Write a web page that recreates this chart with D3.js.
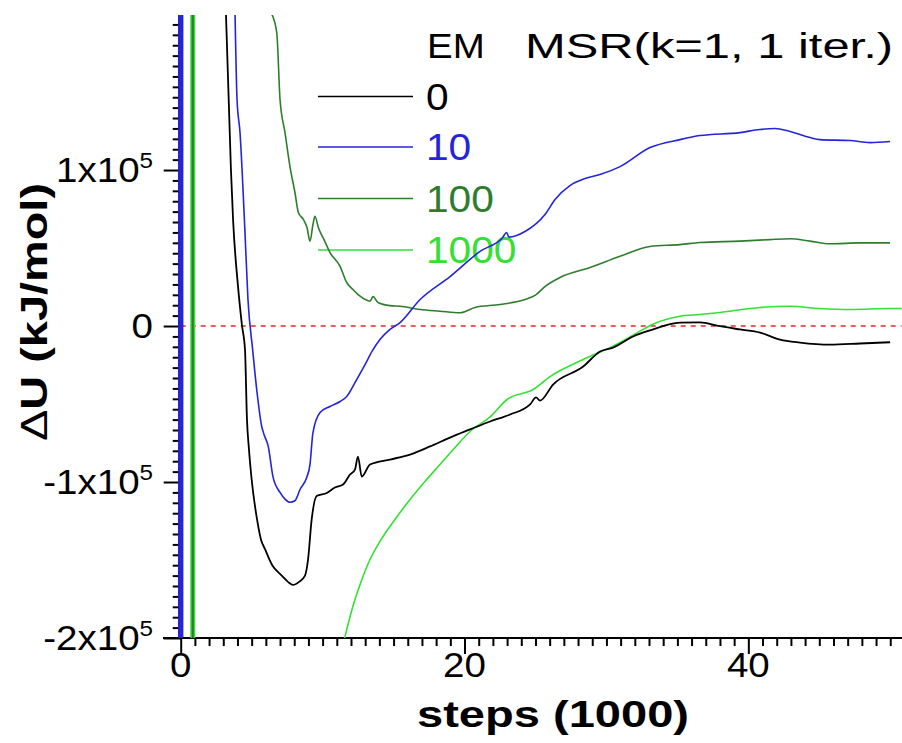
<!DOCTYPE html>
<html><head><meta charset="utf-8">
<script src="https://cdn.jsdelivr.net/npm/d3@7"></script>
<style>
body{margin:0;background:#fff}
svg{display:block}
text{font-family:"Liberation Sans",Arial,Helvetica,sans-serif}
</style>
</head><body>
<svg id="chart" width="902" height="743"></svg>
<script>
// ---- data (steps in thousands, ΔU in kJ/mol) ----
const seriesNames = ["0", "10", "100", "1000"];
const seriesColors = ["#000000", "#2424dc", "#2e7d2e", "#33e033"];

const em0 = [[0,-6e5],[0,6e5],[3.19,200000],[3.54,100300],[3.69,68300],[4.04,25300],[4.32,300],[4.53,-15100],[4.67,-59900],[4.81,-79000],[5.0,-98400],[5.38,-124000],[5.66,-137000],[5.94,-143000],[6.43,-153000],[7.12,-160000],[7.56,-164000],[7.91,-166000],[8.34,-164000],[8.76,-160000],[8.97,-150000],[9.23,-124000],[9.58,-109000],[10.29,-107000],[10.87,-103500],[11.44,-101600],[11.93,-95200],[12.28,-92000],[12.49,-83700],[12.76,-96500],[13.34,-88800],[14.75,-85600],[16.16,-82400],[17.57,-77200],[18.98,-71500],[20.39,-66300],[21.8,-61200],[23.21,-56700],[24.62,-50300],[25.04,-45800],[25.32,-47800],[26.24,-37500],[28.36,-26000],[29.55,-16300],[30.47,-13800],[31.88,-6700],[33.07,-2800],[35.18,2200],[36.59,2400],[38.0,-100],[39.41,-2200],[40.82,-4200],[42.23,-8700],[43.64,-10600],[45.76,-11900],[47.87,-11200],[49.99,-10400]];

const em10 = [[0,-6e5],[0,6e5],[3.83,200000],[3.97,145200],[4.18,124000],[4.53,59900],[4.74,17000],[5.07,-15100],[5.38,-42600],[5.71,-64400],[5.87,-69500],[6.17,-77200],[6.5,-96500],[7.0,-106700],[7.35,-111000],[7.7,-113000],[8.05,-112000],[8.41,-104800],[8.88,-97100],[9.11,-88800],[9.32,-68300],[9.82,-55400],[10.52,-51600],[11.23,-48400],[11.7,-45200],[12.4,-34300],[12.99,-24700],[13.48,-16300],[14.04,-8700],[14.75,-2200],[15.46,2200],[16.87,17000],[18.98,31700],[21.09,47800],[22.69,56800],[22.97,60000],[23.12,57000],[24.26,60600],[25.67,71500],[26.38,81100],[27.43,90000],[28.49,94500],[29.55,97100],[30.96,102200],[33.07,114400],[35.18,119500],[36.59,122100],[39.41,124000],[40.82,126000],[41.88,126600],[42.94,124700],[44.35,120800],[45.05,119500],[47.17,118900],[48.58,117600],[49.99,118300]];

const em100 = [[0.85,-6e5],[0.85,6e5],[6.41,200000],[6.77,188000],[7.0,145200],[7.35,124000],[7.7,102200],[8.05,85600],[8.29,72800],[8.64,68300],[8.9,63100],[9.11,54400],[9.32,65100],[9.46,70400],[9.7,63100],[10.1,55400],[10.52,47100],[11.23,38300],[11.7,27900],[12.14,23400],[12.64,19100],[13.34,15900],[13.55,18900],[13.9,15100],[14.75,13100],[15.46,12700],[16.87,10600],[18.27,9500],[19.68,8500],[20.74,11900],[22.5,13800],[24.26,17000],[24.97,19600],[25.67,25300],[26.73,31100],[28.85,37500],[30.96,44700],[33.07,51000],[35.18,52200],[36.59,53500],[39.41,54400],[41.52,55400],[42.94,55900],[44.35,54400],[45.76,52700],[47.87,53300],[49.99,53300]];

const em1000 = [[0.85,6e5],[0.85,-6e5],[11.58,-199000],[12.07,-181700],[12.64,-165700],[13.34,-149700],[14.04,-138100],[15.1,-124000],[16.16,-111200],[17.21,-99700],[18.27,-88800],[19.33,-77900],[20.39,-67600],[21.8,-58300],[23.0,-47100],[24.83,-40700],[26.03,-32400],[28.36,-21500],[30.47,-12900],[32.37,-3300],[33.07,300],[35.18,6300],[36.59,7400],[38.0,8700],[40.82,11900],[42.94,12700],[45.05,11200],[47.17,10600],[49.99,11200],[50.8,11200]];

const seriesData = [em0, em10, em100, em1000];
const drawOrder = [3, 2, 0, 1];

const xMajorTicks = [0, 20, 40];
const xTickLabels = ["0", "20", "40"];
const yMajorTicks = [-200000, -100000, 0, 100000];
const yTickMantissa = ["-2x10", "-1x10", "0", "1x10"];
const yTickExponent = ["5", "5", "", "5"];

const legendTitle = "EM";
const legendSubtitle = "MSR(k=1, 1 iter.)";
const xTitle = "steps (1000)";
const yTitleSymbol = "\u0394";
const yTitleRest = "U (kJ/mol)";

// ---- layout ----
const svg = d3.select("#chart");
const x = d3.scaleLinear().domain([0, 50.8]).range([180.7, 901.6]);
const y = d3.scaleLinear().domain([-200000, 199000]).range([638, 15.6]);

svg.append("defs").append("clipPath").attr("id", "clip")
  .append("rect").attr("x", 175).attr("y", 15).attr("width", 727).attr("height", 623);

const FS = 35;
const SX = 1.1;

function sText(parent, px, py, anchor, size, weight, fill) {
  return parent.append("text")
    .attr("transform", `translate(${px},${py}) scale(${SX},1)`)
    .attr("text-anchor", anchor)
    .attr("font-size", size)
    .attr("font-weight", weight)
    .attr("fill", fill);
}

// axes (drawn first, curves go over the axis line)
const xMinor = d3.range(0, 51).filter(v => v % 20 !== 0);
const xAxisG = svg.append("g").attr("transform", `translate(0,${y(-200000)})`);
xAxisG.call(d3.axisBottom(x).tickValues(xMinor).tickSize(8).tickFormat(""));
xAxisG.call(g => g.append("g").call(d3.axisBottom(x).tickValues(xMajorTicks).tickSize(16).tickFormat("")));
xAxisG.selectAll("path.domain").attr("stroke-width", 2.2).attr("d", `M163,0H902`);
xAxisG.selectAll(".tick line").attr("stroke", "#000").attr("stroke-width", 2);

const yMinor = d3.range(0, 60).filter(k => k % 15 !== 0).map(k => -200000 + k * 100000 / 15);
const yAxisG = svg.append("g").attr("transform", `translate(${x(0)},0)`);
yAxisG.call(d3.axisLeft(y).tickValues(yMinor).tickSize(8).tickFormat(""));
yAxisG.call(g => g.append("g").call(d3.axisLeft(y).tickValues(yMajorTicks).tickSize(17).tickFormat("")));
yAxisG.selectAll("path.domain").attr("stroke-width", 2.2).attr("d", `M0,${y(199000)}V${y(-200000)}`);
yAxisG.selectAll(".tick line").attr("stroke", "#000").attr("stroke-width", 2);

// legend (drawn under curves)
const legend = svg.append("g");
sText(legend, 427, 58, "start", FS, "normal", "#000").text(legendTitle);
legend.append("text").attr("x", 525).attr("y", 58).attr("font-size", FS)
  .attr("textLength", 368).attr("lengthAdjust", "spacingAndGlyphs").text(legendSubtitle);
const legendRowY = [96.5, 147, 198.5, 250];
seriesNames.forEach((n, i) => {
  legend.append("line").attr("x1", 318).attr("x2", 413)
    .attr("y1", legendRowY[i]).attr("y2", legendRowY[i])
    .attr("stroke", seriesColors[i]).attr("stroke-width", 1.6);
  sText(legend, 426, legendRowY[i] + 13, "start", 37, "normal", seriesColors[i]).text(n);
});

// zero reference line
svg.append("line")
  .attr("x1", x(0)).attr("x2", x(50.8)).attr("y1", y(0)).attr("y2", y(0))
  .attr("stroke", "#e02a2a").attr("stroke-width", 1.3).attr("stroke-dasharray", "5,5");

// curves
const jumpLine = d3.line().x(d => x(d[0])).y(d => y(d[1]));
const line = d3.line().x(d => x(d[0])).y(d => y(d[1])).curve(d3.curveMonotoneX);
const plot = svg.append("g").attr("clip-path", "url(#clip)");
drawOrder.forEach(i => {
  const d = seriesData[i];
  // initial jump drawn thick
  plot.append("path").datum(d.slice(0, 2)).attr("d", jumpLine)
    .attr("fill", "none").attr("stroke", seriesColors[i])
    .attr("stroke-width", i === 3 ? 5 : (i === 2 ? 2.2 : 5));
  plot.append("path").datum(d.slice(2)).attr("d", line)
    .attr("fill", "none").attr("stroke", seriesColors[i])
    .attr("stroke-width", i === 0 ? 1.8 : 1.6).attr("stroke-linejoin", "round");
  // connect the jump top/bottom to the rest (outside the plot area)
  plot.append("path").datum(d.slice(1, 3)).attr("d", jumpLine)
    .attr("fill", "none").attr("stroke", seriesColors[i]).attr("stroke-width", 1.6);
});

// tick labels
xMajorTicks.forEach((v, i) => {
  sText(svg, x(v), 677, "middle", FS, "normal", "#000").text(xTickLabels[i]);
});
yMajorTicks.forEach((v, i) => {
  const t = sText(svg, 153, y(v) + 12, "end", FS, "normal", "#000");
  t.append("tspan").text(yTickMantissa[i]);
  if (yTickExponent[i]) t.append("tspan").attr("font-size", 22).attr("dy", -14).text(yTickExponent[i]);
});

// axis titles
svg.append("text").attr("x", 553).attr("y", 727).attr("text-anchor", "middle")
  .attr("font-size", 36).attr("font-weight", "bold")
  .attr("textLength", 272).attr("lengthAdjust", "spacingAndGlyphs").text(xTitle);
const yt = svg.append("text").attr("transform", "translate(47,312) rotate(-90)")
  .attr("text-anchor", "middle").attr("font-size", 36).attr("font-weight", "bold")
  .attr("textLength", 258).attr("lengthAdjust", "spacingAndGlyphs");
yt.append("tspan").attr("font-weight", "normal").text(yTitleSymbol);
yt.append("tspan").text(yTitleRest);
</script>
</body></html>
